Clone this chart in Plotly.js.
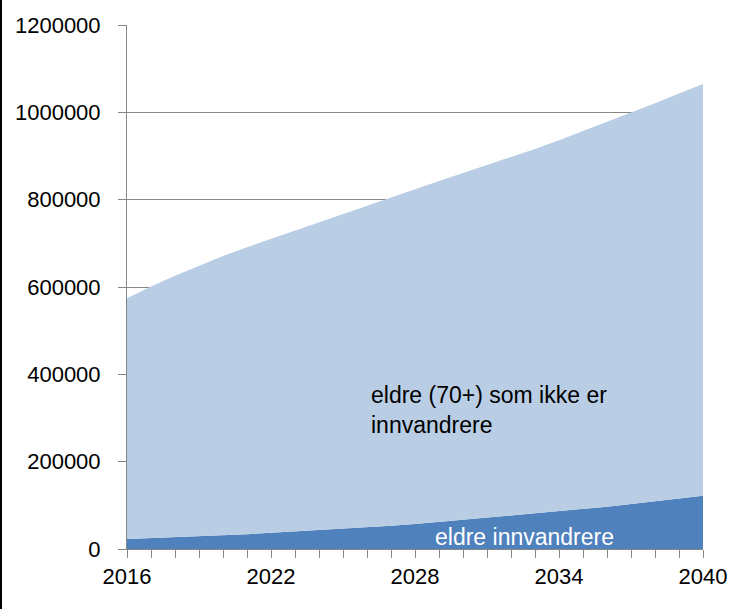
<!DOCTYPE html>
<html>
<head>
<meta charset="utf-8">
<script src="https://cdn.plot.ly/plotly-3.0.1.min.js"></script>
<style>
  html, body { margin: 0; padding: 0; background: #fff; }
  #chart { width: 751px; height: 609px; }
</style>
</head>
<body>
<div id="chart"></div>
<script>
// Years on the x axis
const years = [2016, 2017, 2018, 2019, 2020, 2021, 2022, 2023, 2024, 2025, 2026, 2027, 2028,
               2029, 2030, 2031, 2032, 2033, 2034, 2035, 2036, 2037, 2038, 2039, 2040];

// Elderly immigrants (bottom layer)
const immigrants = [23000, 25000, 27000, 29000, 32000, 34000, 37000, 40000, 43000, 46000, 50000, 53000, 57000,
                    62000, 66000, 71000, 76000, 81000, 86000, 92000, 97000, 103000, 109000, 116000, 122000];

// Elderly (70+) who are not immigrants (stacked on top)
const nonImmigrants = [551000, 576000, 599000, 620000, 639000, 657000, 673000, 689000, 705000, 721000, 736000, 752000, 768000,
                       781000, 795000, 808000, 821000, 835000, 850000, 865000, 881000, 897000, 912000, 927000, 943000];

const xTickVals = [2016, 2022, 2028, 2034, 2040];
const yTickVals = [0, 200000, 400000, 600000, 800000, 1000000, 1200000];

const axisGrey = '#868686';
const font = 'Liberation Sans, Arial, sans-serif';

const traces = [
  {
    x: years,
    y: immigrants,
    type: 'scatter',
    mode: 'lines',
    stackgroup: 'one',
    name: 'eldre innvandrere',
    line: { width: 0 },
    fillcolor: '#4F81BD',
    hoverinfo: 'skip'
  },
  {
    x: years,
    y: nonImmigrants,
    type: 'scatter',
    mode: 'lines',
    stackgroup: 'one',
    name: 'eldre (70+) som ikke er innvandrere',
    line: { width: 0 },
    fillcolor: '#B9CDE5',
    hoverinfo: 'skip'
  }
];

const layout = {
  width: 751,
  height: 609,
  margin: { l: 127, r: 48, t: 25, b: 60 },
  paper_bgcolor: '#fff',
  plot_bgcolor: '#fff',
  showlegend: false,
  font: { family: font, size: 22, color: '#000' },
  xaxis: {
    range: [2016, 2040],
    tickmode: 'array',
    tickvals: xTickVals,
    ticks: 'outside',
    ticklen: 8,
    tickcolor: axisGrey,
    tickwidth: 1,
    minor: { dtick: 1, tick0: 2016, ticks: 'outside', ticklen: 8, tickcolor: axisGrey, tickwidth: 1, showgrid: false },
    showgrid: false,
    showline: true,
    linecolor: axisGrey,
    linewidth: 1,
    zeroline: false,
    tickfont: { family: font, size: 22, color: '#000' }
  },
  yaxis: {
    range: [0, 1200000],
    tickmode: 'array',
    tickvals: yTickVals,
    tickformat: 'd',
    ticks: 'outside',
    ticklen: 8,
    tickcolor: axisGrey,
    tickwidth: 1,
    showgrid: true,
    gridcolor: axisGrey,
    gridwidth: 1,
    showline: true,
    linecolor: axisGrey,
    linewidth: 1,
    zeroline: false,
    ticklabelstandoff: 13,
    tickfont: { family: font, size: 22, color: '#000' }
  },
  annotations: [
    {
      x: 2026.1, y: 318000, xref: 'x', yref: 'y',
      text: 'eldre (70+) som ikke er<br>innvandrere',
      showarrow: false, xanchor: 'left', yanchor: 'middle', align: 'left',
      font: { family: font, size: 23, color: '#000' }
    },
    {
      x: 2032.55, y: 28000, xref: 'x', yref: 'y',
      text: 'eldre innvandrere',
      showarrow: false, xanchor: 'center', yanchor: 'middle',
      font: { family: font, size: 23, color: '#fff' }
    }
  ],
  shapes: [
    {
      type: 'line', xref: 'paper', yref: 'paper',
      x0: -126 / 576, x1: -126 / 576, y0: -60 / 524, y1: 25 / 524 + 1,
      line: { color: '#000', width: 2 }
    }
  ]
};

Plotly.newPlot('chart', traces, layout, { displayModeBar: false, staticPlot: true });
</script>
</body>
</html>
